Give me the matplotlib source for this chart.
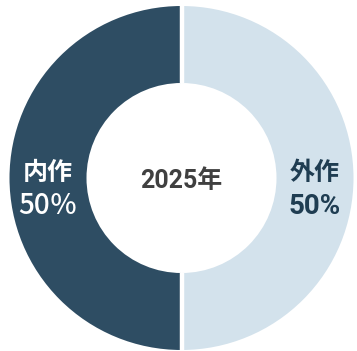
import numpy as np
import matplotlib
matplotlib.use("Agg")
import matplotlib.pyplot as plt

plt.rcParams['font.family'] = ['Roboto', 'Noto Sans CJK JP', 'DejaVu Sans']

# Share of work by category
categories = ["外作", "内作"]
shares = [50, 50]
pct_suffix = ["%", "％"]
center_label = "2025年"

colors = ["#d3e2ec", "#2e4d63"]
text_colors = ["#1f3d52", "#ffffff"]

W, H = 357, 351
fig = plt.figure(figsize=(W / 100, H / 100), dpi=100)
ax = fig.add_axes([0, 0, 1, 1])

cx, cy = 181.5, H - 178
r_out, r_in = 172, 95

wedges, _ = ax.pie(shares, colors=colors, startangle=90, counterclock=False,
                   center=(cx, cy), radius=r_out,
                   wedgeprops=dict(width=r_out - r_in, linewidth=0))
ax.set_xlim(0, W)
ax.set_ylim(0, H)
ax.set_aspect("auto")
ax.axis("off")

# white separators between segments
for w in wedges:
    th = np.deg2rad(w.theta1)
    ax.plot([cx + r_in * np.cos(th), cx + (r_out + 2) * np.cos(th)],
            [cy + r_in * np.sin(th), cy + (r_out + 2) * np.sin(th)],
            color="white", lw=3.2, solid_capstyle="butt")

cjk = ['Noto Sans CJK JP', 'DejaVu Sans']
r_mid = (r_out + r_in) / 2
for w, cat, v, suf, tc in zip(wedges, categories, shares, pct_suffix, text_colors):
    th = np.deg2rad((w.theta1 + w.theta2) / 2)
    x = cx + r_mid * np.cos(th)
    y = cy + r_mid * np.sin(th)
    ax.text(x, y + 5, cat, ha="center", va="center", fontsize=18,
            fontweight="bold", color=tc, family=cjk)
    if suf == "%":
        ax.text(x, y - 28, f"{v}{suf}", ha="center", va="center", fontsize=20,
                fontweight="bold", color=tc, family=['Roboto', 'DejaVu Sans'])
    else:
        ax.text(x, y - 28, f"{v}{suf}", ha="center", va="center", fontsize=20,
                fontweight="medium", color=tc, family=cjk)

ax.text(cx, cy - 3, center_label, ha="center", va="center", fontsize=18,
        fontweight="bold", color="#404040")

fig.savefig("out.png", dpi=100)
